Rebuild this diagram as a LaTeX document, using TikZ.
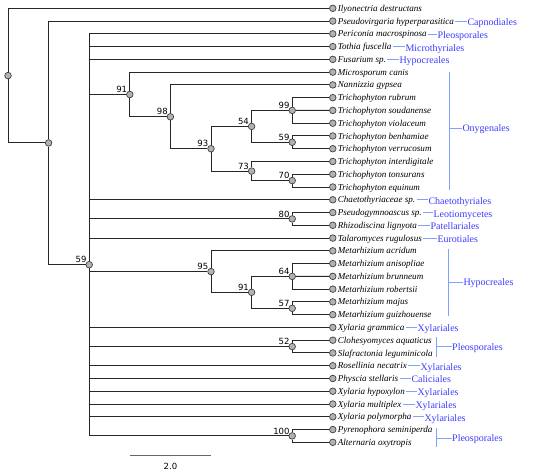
\documentclass[tikz,border=0pt]{standalone}
\usepackage{fontspec}
\setmainfont{Liberation Serif}
\newfontfamily\supfont{DejaVu Sans}
\definecolor{ordblue}{RGB}{60,60,255}
\definecolor{brkblue}{RGB}{130,160,255}
\begin{document}
\begin{tikzpicture}[x=1pt,y=-1pt,
  dot/.style={circle, draw=black!75, fill=black!30, minimum size=6.6pt, inner sep=0pt, line width=0.7pt},
  branch/.style={line width=1pt, black!85},
  leaflab/.style={anchor=west, inner sep=1.2pt, font=\fontsize{9.1}{10}\selectfont\itshape, text height=6.1pt, text depth=0pt},
  ordlab/.style={anchor=west, inner sep=0.3pt, font=\fontsize{10}{11}\selectfont, text=ordblue, text height=6.6pt, text depth=0pt},
  ordline/.style={brkblue, line width=0.6pt},
  sup/.style={anchor=south east, inner sep=0pt, font=\supfont\fontsize{8.5}{9}\selectfont, xshift=-2.5pt, yshift=1.5pt},
  scalebar/.style={black!60, line width=1.1pt}]
\useasboundingbox (0,0) rectangle (550,475);

% leaves
\foreach \i/\name in {1/Ilyonectria destructans, 2/Pseudovirgaria hyperparasitica, 3/Periconia macrospinosa,
  4/Tothia fuscella, 5/Fusarium sp., 6/Microsporum canis, 7/Nannizzia gypsea, 8/Trichophyton rubrum,
  9/Trichophyton soudanense, 10/Trichophyton violaceum, 11/Trichophyton benhamiae, 12/Trichophyton verrucosum,
  13/Trichophyton interdigitale, 14/Trichophyton tonsurans, 15/Trichophyton equinum, 16/Chaetothyriaceae sp.,
  17/Pseudogymnoascus sp., 18/Rhizodiscina lignyota, 19/Talaromyces rugulosus, 20/Metarhizium acridum,
  21/Metarhizium anisopliae, 22/Metarhizium brunneum, 23/Metarhizium robertsii, 24/Metarhizium majus,
  25/Metarhizium guizhouense, 26/Xylaria grammica, 27/Clohesyomyces aquaticus, 28/Slafractonia leguminicola,
  29/Rosellinia necatrix, 30/Physcia stellaris, 31/Xylaria hypoxylon, 32/Xylaria multiplex,
  33/Xylaria polymorpha, 34/Pyrenophora seminiperda, 35/Alternaria oxytropis}
{
  \node[dot] (L\i) at (332.8,{8.3+(\i-1)*12.765}) {};
  \node[leaflab] (T\i) at (L\i.east) {\name};
}

% internal nodes
\node[dot] (root) at (8,75.6) {};
\node[dot] (n2) at (48.6,142.9) {};
\node[dot] (n59) at (89.2,264.7) {};
\node[dot] (n91) at (129.8,94.5) {};
\node[dot] (n98) at (170.4,116.8) {};
\node[dot] (n93) at (211,148.7) {};
\node[dot] (n54) at (251.6,126.4) {};
\node[dot] (n99) at (292.2,110.4) {};
\node[dot] (n59b) at (292.2,142.3) {};
\node[dot] (n73) at (251.6,171.1) {};
\node[dot] (n70) at (292.2,180.6) {};
\node[dot] (n80) at (292.2,218.9) {};
\node[dot] (n95) at (211,271.6) {};
\node[dot] (n91b) at (251.6,292.3) {};
\node[dot] (n64) at (292.2,276.4) {};
\node[dot] (n57) at (292.2,308.3) {};
\node[dot] (n52) at (292.2,346.6) {};
\node[dot] (n100) at (292.2,435.9) {};

% branches
\draw[branch] (root) |- (L1);
\draw[branch] (root) |- (n2);
\draw[branch] (n2) |- (L2);
\draw[branch] (n2) |- (n59);
\foreach \c in {L3,L4,L5,n91,L16,n80,L19,n95,L26,n52,L29,L30,L31,L32,L33,n100}
  \draw[branch] (n59) |- (\c);
\draw[branch] (n91) |- (L6);
\draw[branch] (n91) |- (n98);
\draw[branch] (n98) |- (L7);
\draw[branch] (n98) |- (n93);
\draw[branch] (n93) |- (n54);
\draw[branch] (n93) |- (n73);
\draw[branch] (n54) |- (n99);
\draw[branch] (n54) |- (n59b);
\draw[branch] (n99) |- (L8);
\draw[branch] (n99) -- (L9);
\draw[branch] (n99) |- (L10);
\draw[branch] (n59b) |- (L11);
\draw[branch] (n59b) |- (L12);
\draw[branch] (n73) |- (L13);
\draw[branch] (n73) |- (n70);
\draw[branch] (n70) |- (L14);
\draw[branch] (n70) |- (L15);
\draw[branch] (n80) |- (L17);
\draw[branch] (n80) |- (L18);
\draw[branch] (n95) |- (L20);
\draw[branch] (n95) |- (n91b);
\draw[branch] (n91b) |- (n64);
\draw[branch] (n91b) |- (n57);
\draw[branch] (n64) |- (L21);
\draw[branch] (n64) -- (L22);
\draw[branch] (n64) |- (L23);
\draw[branch] (n57) |- (L24);
\draw[branch] (n57) |- (L25);
\draw[branch] (n52) |- (L27);
\draw[branch] (n52) |- (L28);
\draw[branch] (n100) |- (L34);
\draw[branch] (n100) |- (L35);

% support values
\node[sup] (s1) at (n59) {59};
\node[sup] (s2) at (n91) {91};
\node[sup] (s3) at (n98) {98};
\node[sup] (s4) at (n93) {93};
\node[sup] (s5) at (n54) {54};
\node[sup] (s6) at (n99) {99};
\node[sup] (s7) at (n59b) {59};
\node[sup] (s8) at (n73) {73};
\node[sup] (s9) at (n70) {70};
\node[sup] (s10) at (n80) {80};
\node[sup] (s11) at (n95) {95};
\node[sup] (s12) at (n91b) {91};
\node[sup] (s13) at (n64) {64};
\node[sup] (s14) at (n57) {57};
\node[sup] (s15) at (n52) {52};
\node[sup] (s16) at (n100) {100};

% single order labels
\foreach \i/\x/\ord in {2/467/Capnodiales, 3/437/Pleosporales, 4/405/Microthyriales, 5/399/Hypocreales,
  16/428/Chaetothyriales, 17/433/Leotiomycetes, 18/430/Patellariales, 19/437/Eurotiales,
  26/417/Xylariales, 29/420/Xylariales, 30/411/Caliciales, 31/417/Xylariales, 32/415/Xylariales,
  33/424/Xylariales}
{
  \node[ordlab] (O\i) at (\x,{8.3+(\i-1)*12.765+1.2}) {\ord};
  \draw[ordline] (T\i.east) -- (O\i.west |- T\i.east);
}

% bracketed order labels
\coordinate (B1t) at (449,72); \coordinate (B1b) at (449,190);
\node[ordlab] (OB1) at (462,128.5) {Onygenales};
\draw[ordline] (B1t) -- (B1b);
\draw[ordline] (B1t |- OB1.west) -- (OB1.west);

\coordinate (B2t) at (448.3,249); \coordinate (B2b) at (448.3,315.7);
\node[ordlab] (OB2) at (463,282.3) {Hypocreales};
\draw[ordline] (B2t) -- (B2b);
\draw[ordline] (B2t |- OB2.west) -- (OB2.west);

\coordinate (B3t) at (436.7,337); \coordinate (B3b) at (436.7,356.7);
\node[ordlab] (OB3) at (451.7,346.7) {Pleosporales};
\draw[ordline] (B3t) -- (B3b);
\draw[ordline] (B3t |- OB3.west) -- (OB3.west);

\coordinate (B4t) at (436.7,427.7); \coordinate (B4b) at (436.7,447.3);
\node[ordlab] (OB4) at (451.7,438) {Pleosporales};
\draw[ordline] (B4t) -- (B4b);
\draw[ordline] (B4t |- OB4.west) -- (OB4.west);

% scale bar
\coordinate (sb1) at (130,455.7);
\coordinate (sb2) at (210.7,455.7);
\draw[scalebar] (sb1) -- (sb2);
\node[font=\supfont\fontsize{8.5}{9}\selectfont, inner sep=0pt] (sbl) at (170.4,466) {2.0};
\end{tikzpicture}
\end{document}
